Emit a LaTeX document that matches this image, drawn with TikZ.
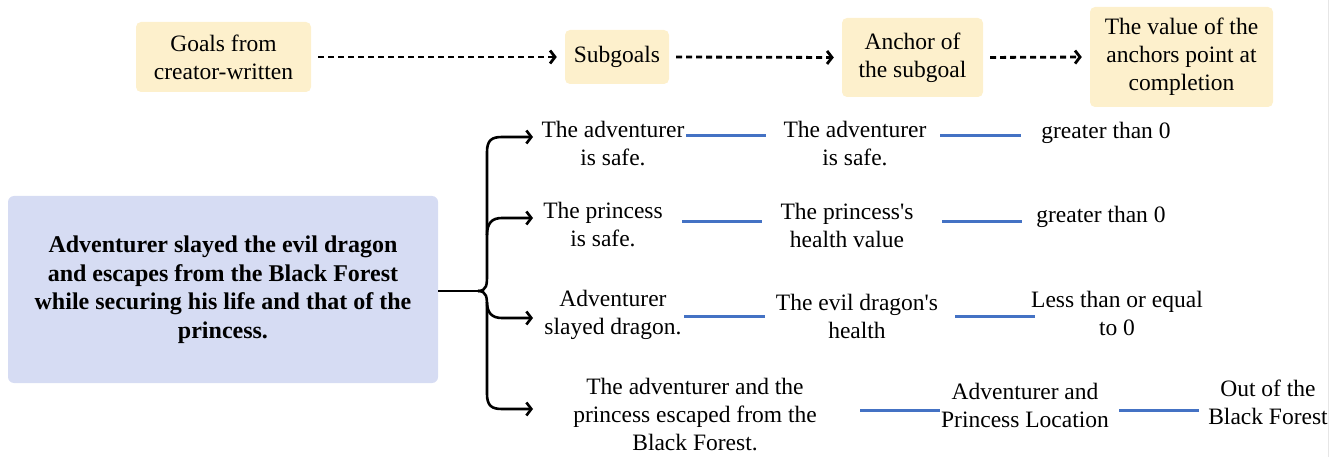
\documentclass[tikz,border=0pt]{standalone}
\usepackage{fontspec}
\newfontfamily\tnr{Liberation Serif}
\usetikzlibrary{arrows.meta}
\definecolor{ybox}{HTML}{FDF0CC}
\definecolor{pbox}{HTML}{D6DCF3}
\definecolor{bline}{HTML}{4472C4}
\definecolor{edge}{HTML}{E6E6E6}
\tikzset{
  txt/.style={align=center,inner sep=0pt,font=\tnr\fontsize{23.5}{28}\selectfont},
  ybx/.style={txt,fill=ybox,rounded corners=5pt},
  dasharrow/.style={line width=2.8pt,dash pattern=on 6pt off 4pt,-{Straight Barb[length=5pt,width=13pt]},shorten <=7pt,shorten >=8pt},
  brace/.style={line width=2.6pt},
  barrow/.style={line width=2.6pt,-{Straight Barb[length=5pt,width=13pt]}},
  link/.style={line width=3pt,bline}
}
\begin{document}
\begin{tikzpicture}[x=1pt,y=-1pt]
\useasboundingbox (0,0) rectangle (1342,457);
\draw[edge,line width=1pt] (1328,0) -- (1328,457);
% top row
\node[ybx,minimum width=175pt,minimum height=70pt] (g1) at (223.5,57) {Goals from\\creator-written};
\node[ybx,minimum width=104pt,minimum height=54pt] (g2) at (617,57) {Subgoals};
\node[ybx,minimum width=141pt,minimum height=79pt] (g3) at (912.5,57.5) {Anchor of\\the subgoal};
\node[ybx,minimum width=183pt,minimum height=100pt] (g4) at (1181.5,57) {The value of the\\anchors point at\\completion};
\draw[dasharrow] (g1.east) -- (g2.west);
\draw[dasharrow] (g2.east) -- (g3.west);
\draw[dasharrow] (g3.east) -- (g4.west);
% main box
\node[txt,fill=pbox,rounded corners=6pt,minimum width=430pt,minimum height=187pt,font=\tnr\fontsize{24}{28.5}\selectfont\bfseries] (main) at (223,289.5)
  {Adventurer slayed the evil dragon\\and escapes from the Black Forest\\while securing his life and that of the\\princess.};
% brace
\coordinate (bt) at (478,291);
\coordinate (a1) at (533,137);
\coordinate (a2) at (533,218);
\coordinate (a3) at (533,318);
\coordinate (a4) at (533,409);
\draw[brace] (main.east |- bt) -- (bt);
\draw[barrow] (bt) .. controls (487,291) and (487,284) .. (487,275) -- (487,152) .. controls (487,140) and (492,137) .. (502,137) -- (a1);
\draw[barrow] (bt) .. controls (487,291) and (487,298) .. (487,307) -- (487,394) .. controls (487,406) and (492,409) .. (502,409) -- (a4);
\draw[barrow] (487,235) .. controls (487,223) and (492,218) .. (502,218) -- (a2);
\draw[barrow] (487,302) .. controls (487,313) and (492,318) .. (502,318) -- (a3);
% row 1
\node[txt] (r1a) at (613,144) {The adventurer\\is safe.};
\node[txt] (r1b) at (855,144) {The adventurer\\is safe.};
\node[txt] (r1c) at (1106,133) {greater than 0};
\draw[link] (686,136) coordinate (l1s) -- (766,136) coordinate (l1e);
\draw[link] (940,136) coordinate (l2s) -- (1021,136) coordinate (l2e);
% row 2
\node[txt] (r2a) at (603,225) {The princess\\is safe.};
\node[txt] (r2b) at (847,225.5) {The princess's\\health value};
\node[txt] (r2c) at (1101,217) {greater than 0};
\draw[link] (682,222) coordinate (l3s) -- (762,222) coordinate (l3e);
\draw[link] (942,222) coordinate (l4s) -- (1022,222) coordinate (l4e);
% row 3
\node[txt] (r3a) at (613,314.5) {Adventurer\\slayed dragon.};
\node[txt] (r3b) at (857,316.5) {The evil dragon's\\health};
\node[txt] (r3c) at (1117,313) {Less than or equal\\to 0};
\draw[link] (684,316) coordinate (l5s) -- (765,316) coordinate (l5e);
\draw[link] (955,316) coordinate (l6s) -- (1035,316) coordinate (l6e);
% row 4
\node[txt] (r4a) at (695,415) {The adventurer and the\\princess escaped from the\\Black Forest.};
\node[txt] (r4b) at (1025,405) {Adventurer and\\Princess Location};
\node[txt] (r4c) at (1268,402.5) {Out of the\\Black Forest};
\draw[link] (860,410) coordinate (l7s) -- (940,410) coordinate (l7e);
\draw[link] (1119,410) coordinate (l8s) -- (1199,410) coordinate (l8e);
\end{tikzpicture}
\end{document}
